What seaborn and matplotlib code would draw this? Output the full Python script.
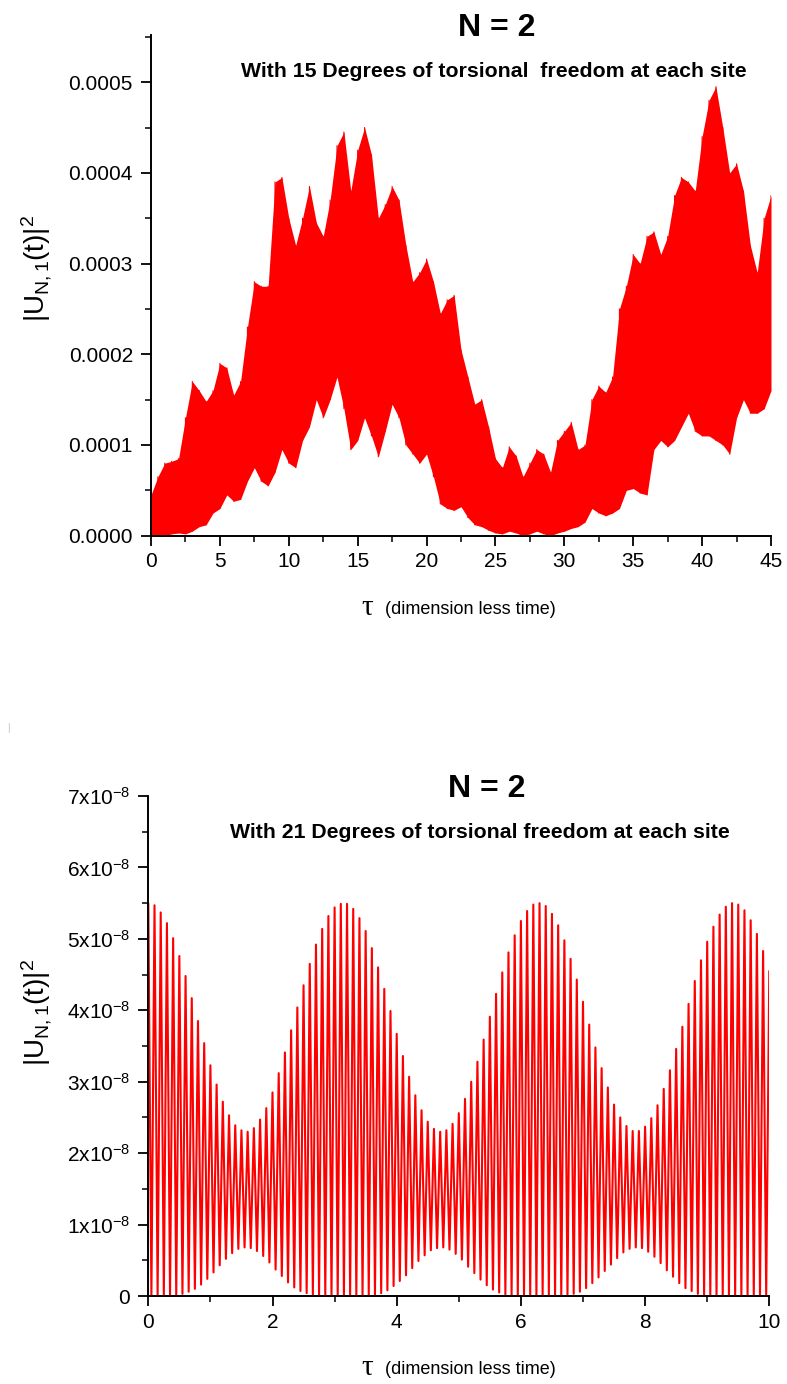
import numpy as np
import matplotlib
matplotlib.use("Agg")
import matplotlib.pyplot as plt
import seaborn as sns
from matplotlib.ticker import MultipleLocator

# ---- top panel: 15 degrees of freedom, envelope read every 0.5 tau (units of 1e-4)
tau_top = np.linspace(0, 45, 91)
hi_top = [0.45, 0.65, 0.80, 0.82, 0.85, 1.30, 1.70, 1.60, 1.48, 1.60,
          1.90, 1.85, 1.55, 1.70, 2.30, 2.80, 2.75, 2.75, 3.90, 3.95,
          3.50, 3.20, 3.50, 3.85, 3.45, 3.30, 3.70, 4.30, 4.45, 3.80,
          4.25, 4.50, 4.20, 3.50, 3.65, 3.85, 3.70, 3.20, 2.80, 2.90,
          3.05, 2.80, 2.45, 2.60, 2.65, 2.05, 1.75, 1.45, 1.50, 1.20,
          0.85, 0.75, 0.98, 0.88, 0.65, 0.80, 0.95, 0.90, 0.70, 1.05,
          1.15, 1.25, 0.95, 1.00, 1.50, 1.65, 1.58, 1.75, 2.50, 2.75,
          3.10, 3.00, 3.30, 3.35, 3.10, 3.30, 3.75, 3.95, 3.90, 3.80,
          4.40, 4.80, 4.95, 4.50, 4.00, 4.10, 3.80, 3.20, 2.90, 3.50,
          3.75]
lo_top = [0.00, 0.00, 0.00, 0.02, 0.03, 0.02, 0.05, 0.10, 0.12, 0.25,
          0.30, 0.45, 0.38, 0.40, 0.60, 0.75, 0.60, 0.55, 0.70, 0.95,
          0.80, 0.75, 1.05, 1.20, 1.50, 1.30, 1.50, 1.75, 1.40, 0.95,
          1.05, 1.30, 1.10, 0.87, 1.15, 1.45, 1.30, 1.00, 0.90, 0.80,
          0.90, 0.65, 0.35, 0.30, 0.28, 0.32, 0.20, 0.12, 0.10, 0.06,
          0.03, 0.02, 0.05, 0.03, 0.00, 0.02, 0.05, 0.02, 0.00, 0.03,
          0.05, 0.08, 0.10, 0.15, 0.30, 0.25, 0.22, 0.25, 0.30, 0.50,
          0.52, 0.47, 0.45, 0.95, 1.05, 0.98, 1.05, 1.20, 1.35, 1.15,
          1.10, 1.10, 1.05, 1.00, 0.90, 1.30, 1.50, 1.35, 1.35, 1.40,
          1.60]
top_xticklabels = ['0', '5', '10', '15', '20', '25', '30', '35', '40', '45']
top_yticklabels = ['0.0000', '0.0001', '0.0002', '0.0003', '0.0004', '0.0005']

# ---- bottom panel: 21 degrees of freedom (units of 1e-8)
tau_bot_hi = np.linspace(0, 10, 101)
tau_bot_lo = np.linspace(0.05, 9.95, 100)
hi_bot = [5.50, 5.47, 5.37, 5.22, 5.01, 4.76, 4.48, 4.17, 3.85, 3.54,
          3.23, 2.96, 2.72, 2.53, 2.39, 2.32, 2.30, 2.35, 2.47, 2.63,
          2.85, 3.12, 3.41, 3.72, 4.04, 4.35, 4.65, 4.92, 5.14, 5.32,
          5.44, 5.49, 5.49, 5.42, 5.29, 5.11, 4.87, 4.60, 4.30, 3.99,
          3.67, 3.36, 3.07, 2.81, 2.60, 2.44, 2.34, 2.30, 2.32, 2.41,
          2.56, 2.76, 3.00, 3.28, 3.59, 3.91, 4.23, 4.53, 4.81, 5.05,
          5.25, 5.39, 5.48, 5.50, 5.46, 5.35, 5.19, 4.98, 4.72, 4.43,
          4.12, 3.80, 3.48, 3.19, 2.92, 2.68, 2.50, 2.38, 2.31, 2.31,
          2.37, 2.49, 2.67, 2.90, 3.16, 3.46, 3.77, 4.09, 4.41, 4.70,
          4.96, 5.17, 5.34, 5.45, 5.50, 5.48, 5.40, 5.26, 5.07, 4.83,
          4.55]
lo_bot = [0.00, 0.00, 0.00, 0.00, 0.01, 0.03, 0.06, 0.10, 0.16, 0.24,
          0.33, 0.43, 0.52, 0.60, 0.66, 0.68, 0.67, 0.63, 0.56, 0.47,
          0.37, 0.28, 0.19, 0.12, 0.07, 0.04, 0.02, 0.01, 0.00, 0.00,
          0.00, 0.00, 0.00, 0.00, 0.00, 0.01, 0.02, 0.04, 0.08, 0.14,
          0.21, 0.29, 0.39, 0.49, 0.57, 0.64, 0.67, 0.68, 0.65, 0.59,
          0.51, 0.41, 0.32, 0.23, 0.15, 0.09, 0.05, 0.02, 0.01, 0.00,
          0.00, 0.00, 0.00, 0.00, 0.00, 0.00, 0.00, 0.01, 0.03, 0.06,
          0.11, 0.18, 0.26, 0.35, 0.44, 0.53, 0.61, 0.66, 0.68, 0.67,
          0.62, 0.55, 0.46, 0.36, 0.27, 0.18, 0.11, 0.07, 0.03, 0.01,
          0.00, 0.00, 0.00, 0.00, 0.00, 0.00, 0.00, 0.00, 0.01, 0.02]
bot_xticklabels = ['0', '2', '4', '6', '8', '10']
bot_yticklabels = ['0', r'$1\mathrm{x}10^{-8}$', r'$2\mathrm{x}10^{-8}$', r'$3\mathrm{x}10^{-8}$',
                   r'$4\mathrm{x}10^{-8}$', r'$5\mathrm{x}10^{-8}$', r'$6\mathrm{x}10^{-8}$',
                   r'$7\mathrm{x}10^{-8}$']

sns.set_style('ticks')
plt.rcParams['font.family'] = ['Liberation Sans', 'DejaVu Sans']
plt.rcParams['mathtext.fontset'] = 'custom'
plt.rcParams['mathtext.rm'] = 'Liberation Sans'
plt.rcParams['mathtext.it'] = 'Liberation Sans:italic'
plt.rcParams['mathtext.bf'] = 'Liberation Sans:bold'
plt.rcParams['mathtext.default'] = 'regular'
plt.rcParams['text.color'] = 'black'
plt.rcParams['axes.labelcolor'] = 'black'
plt.rcParams['xtick.color'] = 'black'
plt.rcParams['ytick.color'] = 'black'

W, H = 787, 1384
fig = plt.figure(figsize=(W / 100, H / 100), dpi=100)


def px(x, y):
    return x / W, 1 - y / H


def style_axis(ax):
    sns.despine(ax=ax)
    for s in ['left', 'bottom']:
        ax.spines[s].set_linewidth(1.4)
        ax.spines[s].set_color('black')
    ax.tick_params(which='major', direction='out', length=7, width=1.3,
                   labelsize=15, colors='black', labelcolor='black')
    ax.tick_params(which='minor', direction='out', length=4, width=1.1, colors='black')
    ax.tick_params(axis='y', which='major', pad=6)
    ax.tick_params(axis='x', which='major', pad=5)
    ax.set_xlabel('')
    ax.set_ylabel('')


def zigzag(t_a, v_a, t_b, v_b):
    xs, ys = [], []
    for i in range(len(t_a)):
        xs.append(t_a[i]); ys.append(v_a[i])
        if i < len(t_b):
            xs.append(t_b[i]); ys.append(v_b[i])
    return np.array(xs), np.array(ys)


# top panel
ax1 = fig.add_axes([151 / W, 1 - 535.7 / H, 620 / W, 500.7 / H])
hi1 = np.array(hi_top) * 1e-4
lo1 = np.array(lo_top) * 1e-4
ax1.fill_between(tau_top, lo1, hi1, color='#ff0000', lw=0)
zx, zy = zigzag(tau_top, lo1, tau_top, hi1)
sns.lineplot(x=zx, y=zy, sort=False, estimator=None, color='#ff0000', lw=0.8, ax=ax1)
ax1.set_xlim(0, 45)
ax1.set_ylim(0, 0.000552)
ax1.set_xticks(np.arange(0, 46, 5))
ax1.set_xticklabels(top_xticklabels)
ax1.set_yticks(np.arange(0, 0.00051, 0.0001))
ax1.set_yticklabels(top_yticklabels)
ax1.xaxis.set_minor_locator(MultipleLocator(2.5))
ax1.yaxis.set_minor_locator(MultipleLocator(0.00005))
style_axis(ax1)

# bottom panel
ax2 = fig.add_axes([148.3 / W, 1 - 1296 / H, 621 / W, 500 / H])
bx, by = zigzag(tau_bot_hi, np.array(hi_bot) * 1e-8, tau_bot_lo, np.array(lo_bot) * 1e-8)
sns.lineplot(x=bx, y=by, sort=False, estimator=None, color='#ff0000', lw=1.5, ax=ax2)
ax2.set_xlim(0, 10)
ax2.set_ylim(0, 7e-8)
ax2.set_xticks(np.arange(0, 11, 2))
ax2.set_xticklabels(bot_xticklabels)
ax2.set_yticks(np.arange(8) * 1e-8)
ax2.set_yticklabels(bot_yticklabels)
ax2.xaxis.set_minor_locator(MultipleLocator(1))
ax2.yaxis.set_minor_locator(MultipleLocator(0.5e-8))
style_axis(ax2)

# texts
ylab = r'$|U_{N,1}(t)|^2$'
fig.text(*px(37, 268), ylab, rotation=90, ha='center', va='center', fontsize=20, color='black')
fig.text(*px(37, 1012), ylab, rotation=90, ha='center', va='center', fontsize=20, color='black')

for yb in (615, 1375):
    fig.text(*px(361, yb), '\u03c4', fontsize=21, family=['Liberation Serif', 'DejaVu Serif'],
             ha='left', va='baseline', color='black')
    fig.text(*px(385, yb - 1), '(dimension less time)', fontsize=13, ha='left',
             va='baseline', color='black')

fig.text(*px(497, 36), 'N = 2', ha='center', va='baseline', fontsize=23, weight='bold',
         color='black')
fig.text(*px(494, 77), 'With 15 Degrees of torsional  freedom at each site',
         ha='center', va='baseline', fontsize=15.3, weight='bold', color='black')
fig.text(*px(487, 797), 'N = 2', ha='center', va='baseline', fontsize=23, weight='bold',
         color='black')
fig.text(*px(480, 838), 'With 21 Degrees of torsional freedom at each site',
         ha='center', va='baseline', fontsize=15.3, weight='bold', color='black')

fig.text(*px(8, 728), '|', color='#c0c0c0', fontsize=7, ha='center', va='center')

fig.savefig('out.png', dpi=100)
